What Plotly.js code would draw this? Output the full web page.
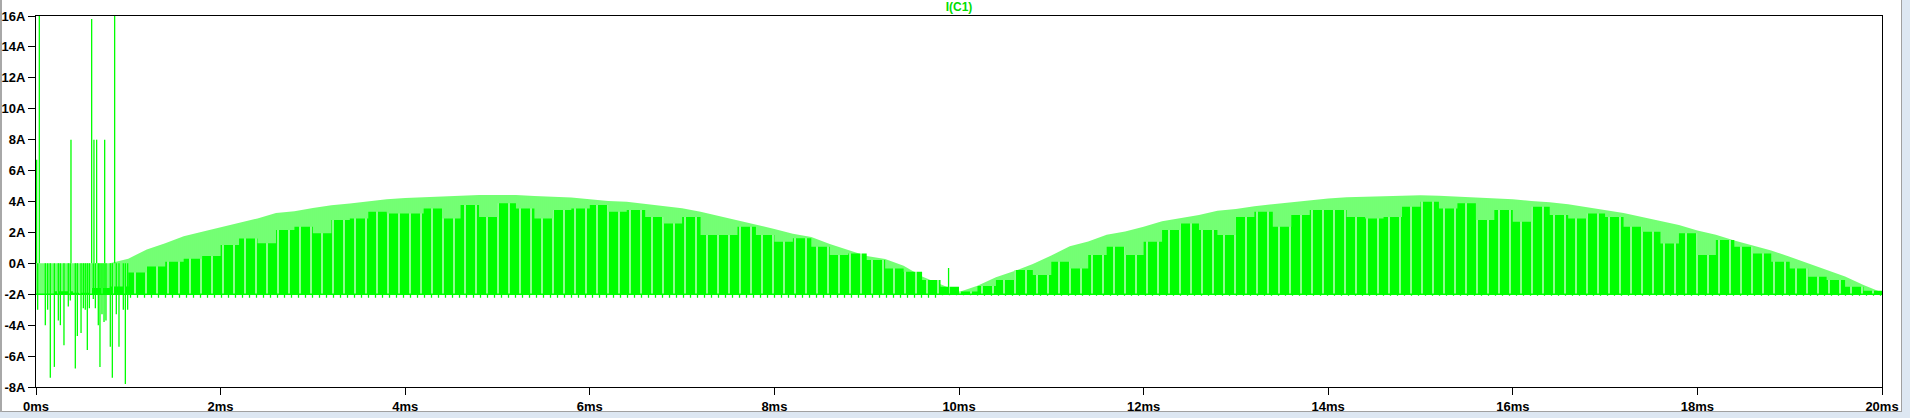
<!DOCTYPE html>
<html>
<head>
<meta charset="utf-8">
<script src="https://cdn.plot.ly/plotly-3.0.1.min.js"></script>
<style>
html,body{margin:0;padding:0;background:#ffffff;}
#chart{width:1910px;height:418px;}
</style>
</head>
<body>
<div id="chart"></div>
<script>
// ---- data (time in ms, current in A) ----
const timeMs = [0,0.2,0.4,0.6,0.8,1,1.2,1.4,1.6,1.8,2,2.2,2.4,2.6,2.8,3,3.2,3.4,3.6,3.8,
  4,4.2,4.4,4.6,4.8,5,5.2,5.4,5.6,5.8,6,6.2,6.4,6.6,6.8,7,7.2,7.4,7.6,7.8,
  8,8.2,8.4,8.6,8.8,9,9.2,9.4,9.6,9.8,10,10.2,10.4,10.6,10.8,11,11.2,11.4,11.6,11.8,
  12,12.2,12.4,12.6,12.8,13,13.2,13.4,13.6,13.8,14,14.2,14.4,14.6,14.8,15,15.2,15.4,15.6,15.8,
  16,16.2,16.4,16.6,16.8,17,17.2,17.4,17.6,17.8,18,18.2,18.4,18.6,18.8,19,19.2,19.4,19.6,19.8,20];

// peak of the switching pulses (envelope of the thin lines)
const pulsePeak = [0,0,0,0,0, 0.3,0.9,1.3,1.75,2.05, 2.35,2.65,2.9,3.25,3.37, 3.58,3.75,3.87,4.02,4.14,
  4.22,4.27,4.33,4.38,4.42, 4.42,4.42,4.35,4.3,4.26, 4.14,4.04,3.99,3.86,3.72, 3.56,3.34,3.07,2.8,2.52,
  2.22,1.92,1.7,1.25,0.85, 0.48,0.28,-0.16,-0.85,-1.35, -1.85,-1.45,-0.9,-0.5,-0.05, 0.5,1.1,1.42,1.85,2.06,
  2.36,2.72,2.92,3.12,3.4, 3.52,3.7,3.83,3.92,4.05, 4.2,4.28,4.32,4.36,4.38, 4.4,4.38,4.32,4.28,4.18,
  4.15,4.03,3.95,3.82,3.63, 3.43,3.25,3.0,2.76,2.48, 2.13,1.85,1.48,1.14,0.83, 0.43,0.0,-0.42,-0.85,-1.4, -1.88];

// top of the densely filled (solid) part of the waveform
const solidTop = [-2,-1.8,-1.9,-1.6,-1.5, -0.6,-0.2,0.1,0.3,0.47, 1.18,1.6,1.3,2.15,2.37, 1.94,2.8,2.9,3.34,3.23,
  3.23,3.55,2.9,3.77,3.0, 3.88,3.55,2.9,3.45,3.55, 3.77,3.34,3.45,3.0,2.58, 3.0,1.83,1.83,2.37,1.83,
  1.4,1.62,1.08,0.54,0.64, 0.21,-0.33,-0.54,-1.08,-1.51, -1.83,-1.47,-1.08,-0.43,-0.76, 0.1,-0.33,0.54,1.08,0.54,
  1.4,2.15,2.58,2.15,1.83, 3.0,3.34,2.37,3.12,3.45, 3.45,3.0,2.9,3.0,3.66, 3.99,3.55,3.88,2.8,3.45,
  2.69,3.66,3.12,2.9,3.23, 3.0,2.37,2.05,1.29,1.94, 0.54,1.51,1.08,0.64,0.1, -0.33,-0.86,-1.08,-1.51,-1.77, -1.9];

const baseLevel = -2;      // off-state current level (A)

// start-up transient spikes (time ms, extreme value A)
const spikeTime = [0.007,0.018,0.036,0.101,0.126,0.155,0.199,0.242,0.264,0.303,0.350,0.372,0.379,0.426,0.448,
  0.488,0.513,0.534,0.556,0.578,0.603,0.621,0.628,0.643,0.657,0.675,0.693,0.715,0.737,0.744,0.758,
  0.805,0.827,0.852,0.870,0.899,0.946,0.968,0.993,9.887];
const spikeValue = [6.7,-3.0,18,-4.0,-3.0,-7.4,-6.7,-3.7,-4.0,-5.3,-2.8,-2.4,8.0,-6.8,-4.7,
  -4.5,-2.9,-3.0,-5.6,-2.9,15.8,-2.3,8.0,-2.9,8.0,-4.0,-6.7,-3.3,-3.8,8.0,-3.7,
  -5.4,-7.4,18,-3.3,-5.4,-3.0,-7.8,-3.0,-0.3];

// small dips below the off level
const dipTime = [1.0,9.8,10.2,20];
const dipLow = [-2.22,-2.06,-2.1,-2.1];

const xTickVals = [0,2,4,6,8,10,12,14,16,18,20];
const xTickText = ['0ms','2ms','4ms','6ms','8ms','10ms','12ms','14ms','16ms','18ms','20ms'];
const yTickVals = [-8,-6,-4,-2,0,2,4,6,8,10,12,14,16];
const yTickText = ['-8A','-6A','-4A','-2A','0A','2A','4A','6A','8A','10A','12A','14A','16A'];

// ---- build traces ----
const GREEN = '#00ff00';
const baseArr = timeMs.map(() => baseLevel);

const spikeX = [], spikeY = [];
for (let i = 0; i < spikeTime.length; i++) {
  spikeX.push(spikeTime[i], spikeTime[i], null);
  spikeY.push(i === spikeTime.length - 1 ? baseLevel : 0, spikeValue[i], null);
}

const traces = [
  {x: dipTime, y: dipTime.map(() => baseLevel), mode: 'lines', line: {width: 0, shape: 'hv'}, hoverinfo: 'skip', showlegend: false},
  {x: dipTime, y: dipLow, mode: 'lines', line: {width: 0, shape: 'hv'}, fill: 'tonexty', fillcolor: 'rgba(0,0,0,0)',
   fillpattern: {shape: '|', size: 7, solidity: 0.18, fgcolor: GREEN, bgcolor: 'rgba(0,0,0,0)'}, hoverinfo: 'skip', showlegend: false},
  {x: timeMs, y: baseArr, mode: 'lines', line: {width: 0}, hoverinfo: 'skip', showlegend: false},
  {x: timeMs, y: pulsePeak, mode: 'lines', line: {width: 0, color: GREEN}, fill: 'tonexty', fillcolor: 'rgba(0,0,0,0)',
   fillpattern: {shape: '|', size: 2, solidity: 0.55, fgcolor: GREEN, bgcolor: 'rgba(255,255,255,0)'}, hoverinfo: 'skip', showlegend: false},
  {x: timeMs, y: baseArr, mode: 'lines', line: {width: 0}, hoverinfo: 'skip', showlegend: false},
  {x: timeMs, y: solidTop, mode: 'lines', line: {width: 0, shape: 'hv', color: GREEN}, fill: 'tonexty', fillcolor: GREEN,
   fillpattern: {shape: '|', size: 11, solidity: 0.9, fgcolor: GREEN, bgcolor: '#ffffff'}, hoverinfo: 'skip', showlegend: false},
  {x: timeMs, y: baseArr, mode: 'lines', line: {width: 1.5, color: GREEN}, hoverinfo: 'skip', showlegend: false},
  {x: spikeX, y: spikeY, mode: 'lines', line: {width: 1.3, color: GREEN}, connectgaps: false, hoverinfo: 'skip', showlegend: false}
];

const tickFont = {family: '"Liberation Sans", Arial, sans-serif', size: 13, color: '#000000', weight: 'bold'};

const layout = {
  width: 1910, height: 418,
  margin: {l: 36, r: 28, t: 16, b: 31, pad: 0},
  paper_bgcolor: '#ffffff', plot_bgcolor: '#ffffff',
  title: {text: 'I(C1)', font: {family: '"Liberation Sans", Arial, sans-serif', size: 12, color: '#00dd00', weight: 'bold'},
          x: 0.5, xref: 'paper', xanchor: 'center', y: 1 - 7/418, yref: 'container', yanchor: 'middle'},
  xaxis: {range: [0, 20], tickvals: xTickVals, ticktext: xTickText, ticks: 'outside', ticklen: 7, tickwidth: 1, tickcolor: '#000',
          showline: true, mirror: true, linecolor: '#000', linewidth: 1, showgrid: false, zeroline: false, tickfont: tickFont, fixedrange: true},
  yaxis: {range: [-8, 16], tickvals: yTickVals, ticktext: yTickText, ticks: 'outside', ticklen: 7, tickwidth: 1, tickcolor: '#000',
          showline: true, mirror: true, linecolor: '#000', linewidth: 1, showgrid: false, zeroline: false, tickfont: tickFont, fixedrange: true},
  shapes: [
    {type: 'rect', xref: 'paper', yref: 'paper', x0: -36/1846, x1: -34/1846, y0: -31/371, y1: 387/371, fillcolor: '#a8a8a8', line: {width: 0}, layer: 'below'},
    {type: 'rect', xref: 'paper', yref: 'paper', x0: 1866/1846, x1: 1874/1846, y0: -31/371, y1: 387/371, fillcolor: '#dde7f2', line: {width: 0}, layer: 'below'},
    {type: 'rect', xref: 'paper', yref: 'paper', x0: 1865/1846, x1: 1866/1846, y0: -24/371, y1: 387/371, fillcolor: '#a0a0a0', line: {width: 0}, layer: 'below'},
    {type: 'rect', xref: 'paper', yref: 'paper', x0: -36/1846, x1: 1874/1846, y0: -31/371, y1: -25/371, fillcolor: '#dde7f2', line: {width: 0}, layer: 'below'},
    {type: 'rect', xref: 'paper', yref: 'paper', x0: -34/1846, x1: 1866/1846, y0: -25/371, y1: -24/371, fillcolor: '#a0a0a0', line: {width: 0}, layer: 'below'}
  ]
};

Plotly.newPlot('chart', traces, layout, {staticPlot: true, displayModeBar: false});
</script>
</body>
</html>
